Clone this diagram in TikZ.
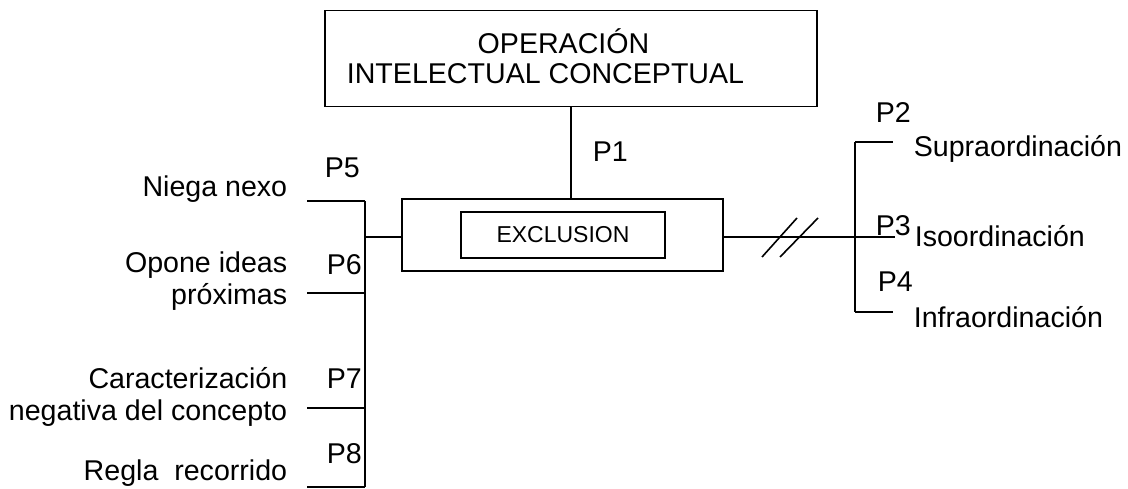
\documentclass[tikz,border=0pt]{standalone}
\usepackage{fontspec}
\setmainfont{Liberation Sans}
\begin{document}
\begin{tikzpicture}[x=1pt,y=-1pt,line width=1.6pt,
  txt/.style={font=\fontsize{28.6}{32}\selectfont, inner sep=0pt},
  small/.style={font=\fontsize{23}{26}\selectfont, inner sep=0pt},
  box/.style={draw, inner sep=0pt, align=center},
  ln/.style={line width=1.6pt},
]
\useasboundingbox (0,0) rectangle (1128,489);
% boxes
\node[box, minimum width=492pt, minimum height=96pt] (top) at (571,58.5) {};
\node[txt, align=center, anchor=base] (toptxt) at (545.5,84)
  {\hspace*{36pt}OPERACIÓN\\[-2pt]INTELECTUAL CONCEPTUAL};
\node[box, minimum width=321pt, minimum height=72pt] (excl) at (562.5,235) {};
\node[box, small, minimum width=204pt, minimum height=46pt] (exin) at (563,235) {EXCLUSION};
% P1 connector
\coordinate (p1x) at (571,0);
\draw[ln] (top.south -| p1x) -- (excl.north -| p1x);
\node[txt, anchor=base west] (p1) at (592,162) {P1};
% left bar
\coordinate (lb) at (365,237);
\coordinate (lt) at (365,201);
\coordinate (lbot) at (365,487);
\draw[ln] (excl.west |- lb) -- (lb);
\draw[ln] (lt) -- (lbot);
\coordinate (t5) at (307,201);
\coordinate (t6) at (307,293);
\coordinate (t7) at (307,408);
\coordinate (t8) at (307,487);
\draw[ln] (t5) -- (t5 -| lt);
\draw[ln] (t6) -- (t6 -| lt);
\draw[ln] (t7) -- (t7 -| lt);
\draw[ln] (t8) -- (t8 -| lt);
% left labels
\node[txt, anchor=base east] (niega) at (288,197) {Niega nexo};
\node[txt, anchor=base east, align=right] (opone) at (288,305) {Opone ideas\\próximas};
\node[txt, anchor=base east, align=right] (carac) at (288,420) {Caracterización\\negativa del concepto};
\node[txt, anchor=base east] (regla) at (288,480) {Regla\ \ recorrido};
\node[txt, anchor=base west] (p5) at (324,178) {P5};
\node[txt, anchor=base west] (p6) at (326,275) {P6};
\node[txt, anchor=base west] (p7) at (326,388) {P7};
\node[txt, anchor=base west] (p8) at (326,463) {P8};
% right side
\coordinate (rb) at (855,237);
\coordinate (rt) at (855,142);
\coordinate (rbot) at (855,312);
\coordinate (rm) at (895,237);
\draw[ln] (excl.east |- rb) -- (rm);
\draw[ln] (rt) -- (rbot);
\coordinate (r2) at (893,142);
\coordinate (r4) at (893,312);
\draw[ln] (rt) -- (r2);
\draw[ln] (rbot) -- (r4);
% break marks
\coordinate (s1a) at (762,257); \coordinate (s1b) at (797,218);
\coordinate (s2a) at (780,257); \coordinate (s2b) at (818,218);
\draw[ln] (s1a) -- (s1b);
\draw[ln] (s2a) -- (s2b);
% right labels
\node[txt, anchor=base west] (p2) at (875,123) {P2};
\node[txt, anchor=base west] (p3) at (875,236) {P3};
\node[txt, anchor=base west] (p4) at (877,292) {P4};
\node[txt, anchor=base west] (supra) at (913,157) {Supraordinación};
\node[txt, anchor=base west] (iso) at (914,247) {Isoordinación};
\node[txt, anchor=base west] (infra) at (913,327) {Infraordinación};
\end{tikzpicture}
\end{document}
